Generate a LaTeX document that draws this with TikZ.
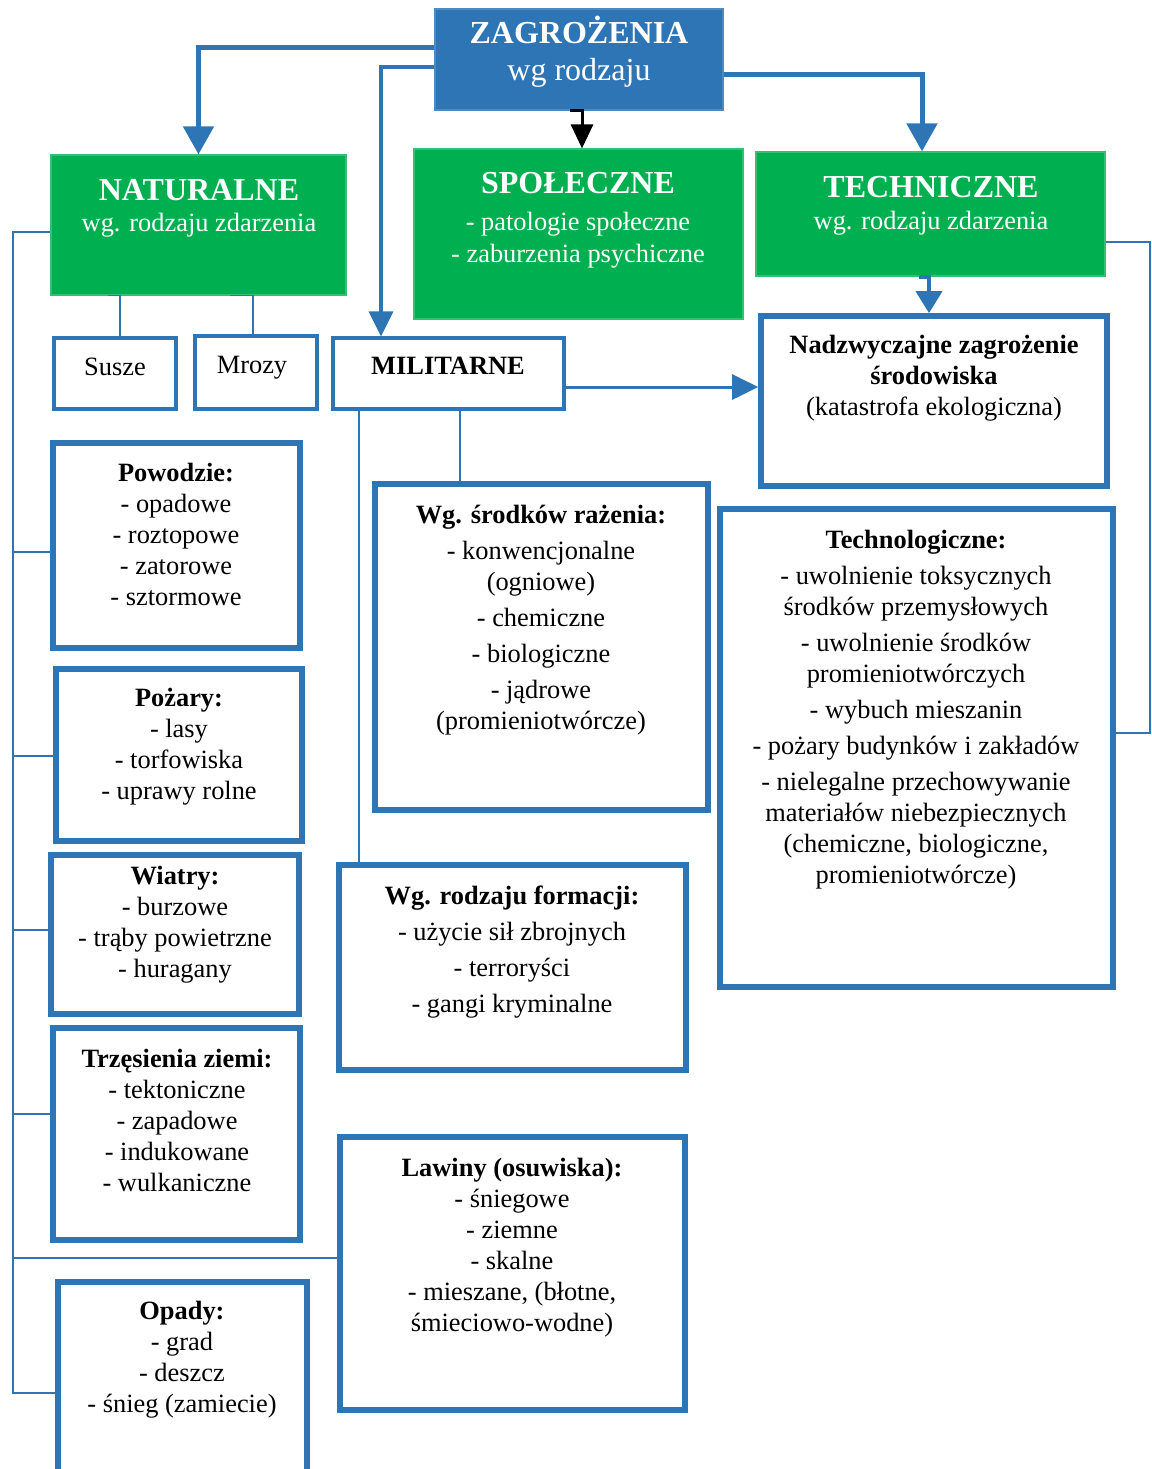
\documentclass[tikz,border=0pt]{standalone}
\usepackage{fontspec}
\setmainfont{Liberation Serif}
\usepackage{tikz}
\usepackage{xcolor}
\usetikzlibrary{arrows.meta,fit}

\definecolor{zblue}{HTML}{2E75B6}
\definecolor{zgreen}{HTML}{00B050}
\definecolor{zdark}{HTML}{1F4E79}

\tikzset{
  greenbox/.style={fill=zgreen, draw=zgreen!80!white, line width=0.6pt, inner sep=0pt},
  topbox/.style={fill=zblue, draw=zblue!85!white, line width=0.6pt, inner sep=0pt},
  thickbox/.style={draw=zblue, line width=2.85pt, inner sep=0pt},
  thinbox/.style={draw=zblue, line width=1.6pt, inner sep=0pt},
  txtbody/.style={align=center, inner sep=0pt, anchor=north, font=\fontsize{13.2}{15.5}\selectfont},
  txtone/.style={inner sep=0pt, anchor=base, font=\fontsize{13.2}{15.5}\selectfont},
  txttitle/.style={inner sep=0pt, anchor=base, text=white, font=\fontsize{16}{19}\selectfont\bfseries},
  bigarrow/.style={draw=zblue, line width=2.5pt, -{Triangle[width=15pt,length=14pt]}},
  midarrow/.style={draw=zblue, line width=1.75pt, -{Triangle[width=12pt,length=12.5pt]}},
  sidearrow/.style={draw=zblue, line width=1.5pt, -{Triangle[width=12.5pt,length=13pt]}},
  smallarrow/.style={draw=zblue, line width=2pt, -{Triangle[width=13pt,length=11pt]}},
  blackarrow/.style={draw=black, line width=1.5pt, -{Triangle[width=11pt,length=12pt]}},
  thinline/.style={draw=zblue, line width=0.75pt},
  bracket/.style={draw=zblue, line width=1pt},
}

\begin{document}
\begin{tikzpicture}[x=0.5pt, y=-0.5pt]
\useasboundingbox (0,0) rectangle (1152,1469);

% top and the three green groups
\node[topbox, fit={(435,9) (723,110)}] (zagr) {};
\node[txttitle] (zagr-t) at (579,43) {ZAGROŻENIA};
\node[txttitle, font=\fontsize{16}{19}\selectfont] (zagr-s) at (579,80) {wg rodzaju};

\node[greenbox, fit={(51,155) (346,295)}] (natur) {};
\node[txttitle] (natur-t) at (199,200) {NATURALNE};
\node[txtone, text=white] (natur-s) at (199,231) {wg. rodzaju zdarzenia};

\node[greenbox, fit={(414,149) (743,319)}] (spol) {};
\node[txttitle] (spol-t) at (578,193) {SPOŁECZNE};
\node[txtbody, text=white] (spol-s) at (578,208.3) {\strut- patologie społeczne\\[0.5pt]- zaburzenia psychiczne};

\node[greenbox, fit={(756,152) (1105,276)}] (techn) {};
\node[txttitle] (techn-t) at (931,197) {TECHNICZNE};
\node[txtone, text=white] (techn-s) at (931,229) {wg. rodzaju zdarzenia};

% small boxes
\node[thinbox, fit={(54,338) (176,409)}] (susze) {};
\node[txtone] (susze-t) at (115,375) {Susze};
\node[thinbox, fit={(195,336) (317,409)}] (mrozy) {};
\node[txtone] (mrozy-t) at (252,373) {Mrozy};
\node[thinbox, fit={(333,338) (564,409)}] (milit) {};
\node[txtone, font=\fontsize{13.2}{15.5}\selectfont\bfseries] (milit-t) at (448,374) {MILITARNE};

\node[thickbox, fit={(761,316) (1107,486)}] (nadz) {};
\node[txtbody] (nadz-t) at (934,331.3) {\strut\textbf{Nadzwyczajne zagrożenie}\\\textbf{środowiska}\\(katastrofa ekologiczna)};

% natural hazards
\node[thickbox, fit={(53,443) (300,648)}] (powodzie) {};
\node[txtbody] (powodzie-t) at (176,459.3) {\strut\textbf{Powodzie:}\\- opadowe\\- roztopowe\\- zatorowe\\- sztormowe};
\node[thickbox, fit={(56,669) (302,841)}] (pozary) {};
\node[txtbody] (pozary-t) at (179,684.3) {\strut\textbf{Pożary:}\\- lasy\\- torfowiska\\- uprawy rolne};
\node[thickbox, fit={(51,855) (299,1014)}] (wiatry) {};
\node[txtbody] (wiatry-t) at (175,862.3) {\strut\textbf{Wiatry:}\\- burzowe\\- trąby powietrzne\\- huragany};
\node[thickbox, fit={(53,1028) (300,1240)}] (trzesienia) {};
\node[txtbody] (trzesienia-t) at (177,1045.3) {\strut\textbf{Trzęsienia ziemi:}\\- tektoniczne\\- zapadowe\\- indukowane\\- wulkaniczne};
\node[thickbox, fit={(58,1282) (307,1500)}] (opady) {};
\node[txtbody] (opady-t) at (182,1297.3) {\strut\textbf{Opady:}\\- grad\\- deszcz\\- śnieg (zamiecie)};

% military
\node[thickbox, fit={(375,484) (708,810)}] (srodki) {};
\node[txtbody] (srodki-t) at (541,501.3) {\strut\textbf{Wg. środków rażenia:}\\[2.5pt]- konwencjonalne\\(ogniowe)\\[2.5pt]- chemiczne\\[2.5pt]- biologiczne\\[2.5pt]- jądrowe\\(promieniotwórcze)};
\node[thickbox, fit={(339,865) (686,1070)}] (formacji) {};
\node[txtbody] (formacji-t) at (512,882.3) {\strut\textbf{Wg. rodzaju formacji:}\\[2.5pt]- użycie sił zbrojnych\\[2.5pt]- terroryści\\[2.5pt]- gangi kryminalne};
\node[thickbox, fit={(340,1137) (685,1410)}] (lawiny) {};
\node[txtbody] (lawiny-t) at (512,1154.3) {\strut\textbf{Lawiny (osuwiska):}\\- śniegowe\\- ziemne\\- skalne\\- mieszane, (błotne,\\śmieciowo-wodne)};

% technical
\node[thickbox, fit={(720,509) (1113,987)}] (techno) {};
\node[txtbody] (techno-t) at (916,526.3) {\strut\textbf{Technologiczne:}\\[2.5pt]- uwolnienie toksycznych\\środków przemysłowych\\[2.5pt]- uwolnienie środków\\promieniotwórczych\\[2.5pt]- wybuch mieszanin\\[2.5pt]- pożary budynków i zakładów\\[2.5pt]- nielegalne przechowywanie\\materiałów niebezpiecznych\\(chemiczne, biologiczne,\\promieniotwórcze)};

% connectors
\draw[bigarrow] (zagr.west |- 0,47) -| (natur.north);
\draw[midarrow] (zagr.west |- 0,67) -| (milit.north -| 381,0);
\draw[bigarrow] (zagr.east |- 0,74) -| (techn.north -| 922,0);
\draw[blackarrow] (zagr.south -| 570,0) -- (zagr.south -| 582,0) -- (spol.north -| 582,0);
\draw[smallarrow] (techn.south -| 919,0) -- (techn.south -| 929,0) -- (nadz.north -| 929,0);
\draw[thinline] (techn.east |- 0,242) -- (1150,242) -- (1150,733) -- (techno.east |- 0,733);
\draw[sidearrow] (milit.east |- 0,387) -- (nadz.west |- 0,387);
\draw[thinline] (milit.south -| 460,0) -- (srodki.north -| 460,0);
\draw[thinline] (milit.south -| 359,0) -- (formacji.north -| 359,0);
\draw[thinline] (natur.south -| 108,0) -- (natur.south -| 120,0) -- (susze.north -| 120,0);
\draw[thinline] (natur.south -| 230,0) -- (natur.south -| 253,0) -- (mrozy.north -| 253,0);

\draw[bracket] (natur.west |- 0,232) -- (13,232) -- (13,1393) -- (opady.west |- 0,1393);
\foreach \yy/\tgt in {552/powodzie, 756/pozary, 930/wiatry, 1114/trzesienia, 1258/lawiny}
  \draw[bracket] (13,\yy) -- (\tgt.west |- 0,\yy);
\end{tikzpicture}
\end{document}
